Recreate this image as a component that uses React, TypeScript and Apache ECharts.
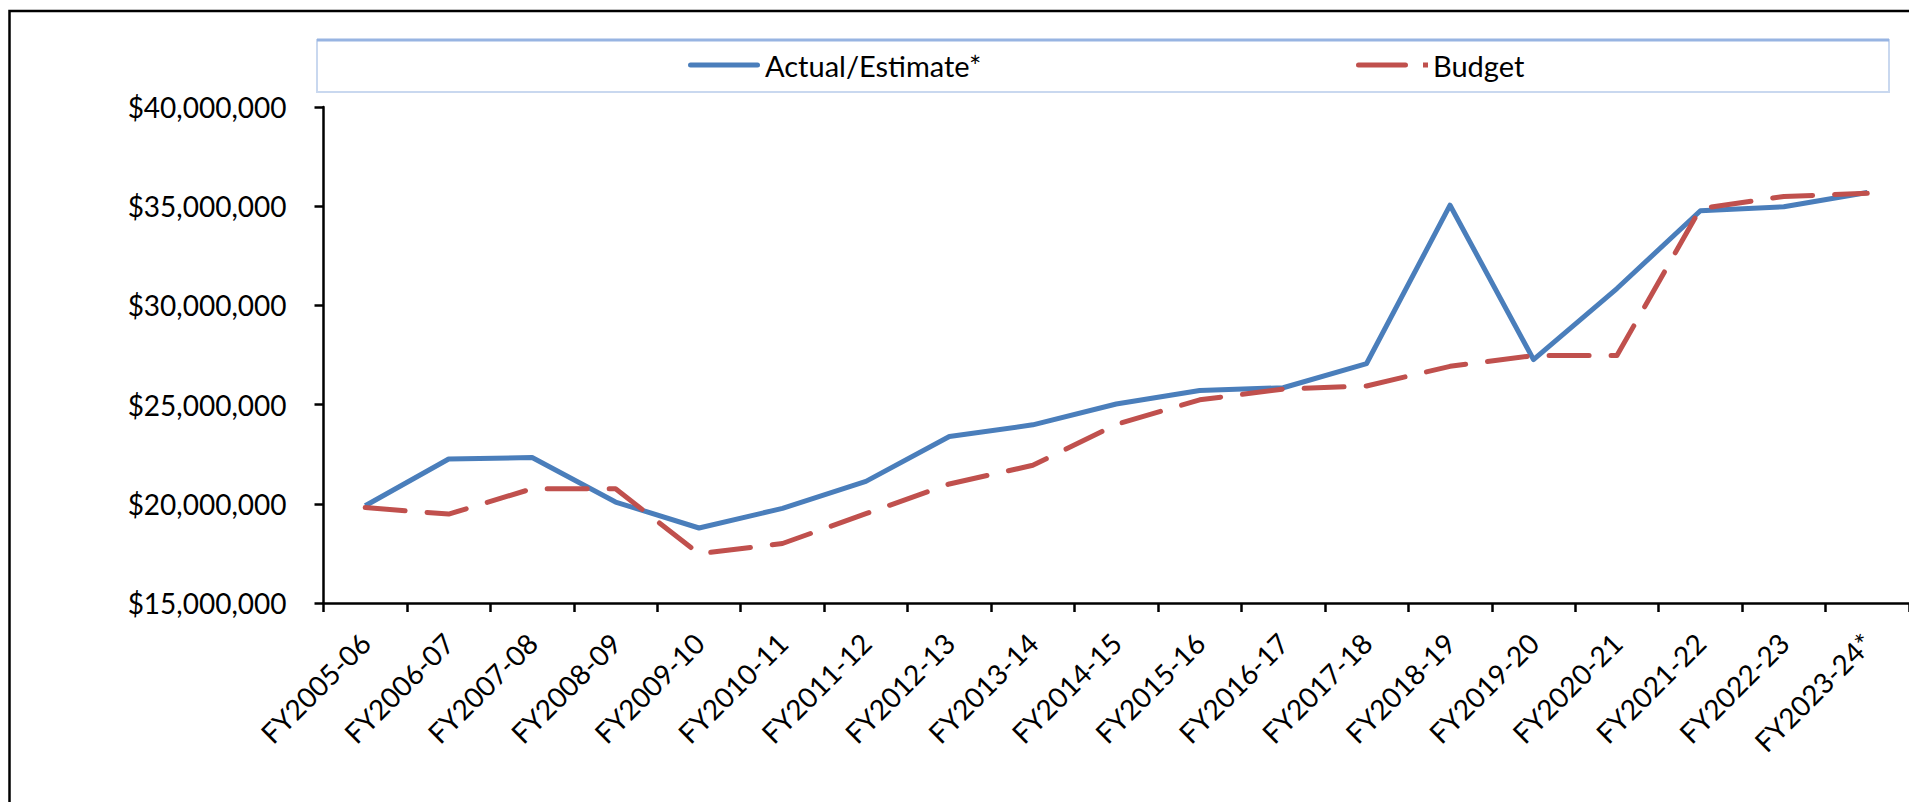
import React, { useEffect, useRef } from 'react';
import * as echarts from 'echarts';

const categories = [
  'FY2005-06', 'FY2006-07', 'FY2007-08', 'FY2008-09', 'FY2009-10', 'FY2010-11', 'FY2011-12',
  'FY2012-13', 'FY2013-14', 'FY2014-15', 'FY2015-16', 'FY2016-17', 'FY2017-18', 'FY2018-19',
  'FY2019-20', 'FY2020-21', 'FY2021-22', 'FY2022-23', 'FY2023-24*',
];

const actualEstimate = [
  19900000, 22260000, 22330000, 20090000, 18780000, 19770000, 21130000,
  23390000, 23980000, 25030000, 25710000, 25850000, 27070000, 35050000,
  27270000, 30850000, 34770000, 34970000, 35690000,
];

const budget = [
  19810000, 19480000, 20760000, 20760000, 17480000, 18000000, 19500000,
  21000000, 21940000, 24000000, 25240000, 25780000, 25940000, 26930000,
  27470000, 27470000, 34880000, 35490000, 35650000,
];

const yMin = 15000000;
const yMax = 40000000;
const yInterval = 5000000;

const seriesNames = ['Actual/Estimate*', 'Budget'];

const FONT = 'Lato';

export default function App() {
  const ref = useRef<HTMLDivElement>(null);

  useEffect(() => {
    if (!ref.current) return;
    const chart = echarts.init(ref.current, undefined, { renderer: 'svg' });
    const legendCommon = {
      orient: 'horizontal',
      padding: 0,
      itemWidth: 72,
      itemHeight: 5,
      itemGap: 0,
      top: 48,
      textStyle: { fontFamily: FONT, fontSize: 29, color: '#000', lineHeight: 34 },
    };
    chart.setOption({
      animation: false,
      backgroundColor: '#fff',
      graphic: [
        {
          type: 'rect',
          shape: { x: 9.5, y: 11, width: 3000, height: 3000 },
          style: { fill: 'none', stroke: '#000', lineWidth: 2.5 },
          silent: true,
        },
        {
          type: 'rect',
          shape: { x: 317, y: 40, width: 1572, height: 52 },
          style: { fill: 'none', stroke: '#C9D8EF', lineWidth: 2 },
          silent: true,
        },
        {
          type: 'line',
          shape: { x1: 317, y1: 40, x2: 1889, y2: 40 },
          style: { stroke: '#97B4E2', lineWidth: 3 },
          silent: true,
        },
      ],
      legend: [
        {
          ...legendCommon,
          left: 688,
          data: [{ name: seriesNames[0], icon: 'path://M2.5,0H69.5A2.5,2.5,0,0,1,69.5,5H2.5A2.5,2.5,0,0,1,2.5,0Z' }],
        },
        {
          ...legendCommon,
          left: 1356,
          data: [{ name: seriesNames[1], icon: 'path://M2.5,0H49.5A2.5,2.5,0,0,1,49.5,5H2.5A2.5,2.5,0,0,1,2.5,0Z M67,0H72V5H67Z' }],
        },
      ],
      grid: { left: 323.5, right: 0, top: 107, bottom: 199, containLabel: false },
      xAxis: {
        type: 'category',
        data: categories,
        boundaryGap: true,
        axisLine: { show: true, lineStyle: { color: '#000', width: 2.5 } },
        axisTick: { show: true, length: 9, alignWithLabel: false, lineStyle: { color: '#000', width: 2.5 } },
        axisLabel: {
          interval: 0,
          rotate: 45,
          margin: 35,
          fontFamily: FONT,
          fontSize: 28,
          color: '#000',
        },
        splitLine: { show: false },
      },
      yAxis: {
        type: 'value',
        min: yMin,
        max: yMax,
        interval: yInterval,
        axisLine: { show: true, lineStyle: { color: '#000', width: 2.5 } },
        axisTick: { show: true, length: 9, lineStyle: { color: '#000', width: 2.5 } },
        splitLine: { show: false },
        axisLabel: {
          margin: 37,
          fontFamily: FONT,
          fontSize: 28,
          color: '#000',
          formatter: (v: number) => '$' + v.toLocaleString('en-US'),
        },
      },
      series: [
        {
          name: seriesNames[0],
          type: 'line',
          data: actualEstimate,
          symbol: 'none',
          lineStyle: { color: '#4A7EBB', width: 5, join: 'round' },
          itemStyle: { color: '#4A7EBB' },
        },
        {
          name: seriesNames[1],
          type: 'line',
          data: budget,
          symbol: 'none',
          lineStyle: { color: '#C0504D', width: 5, type: [40, 22], cap: 'round', join: 'round' },
          itemStyle: { color: '#C0504D' },
        },
      ],
    });
    return () => chart.dispose();
  }, []);

  return (
    <div
      ref={ref}
      style={{ position: 'absolute', left: 0, top: 0, width: 1909, height: 802 }}
    />
  );
}
